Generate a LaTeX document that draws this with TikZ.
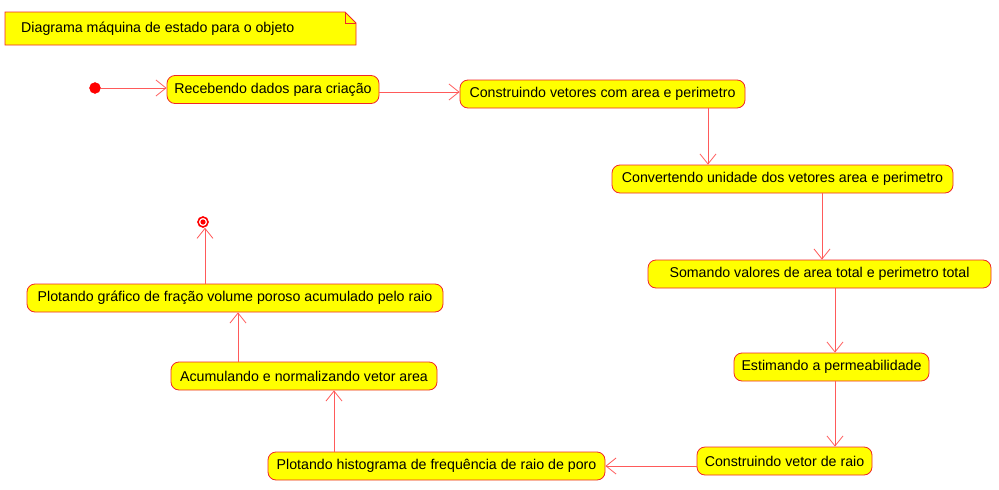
\documentclass[tikz,border=0pt]{standalone}
\usepackage{fontspec}
\setmainfont{Liberation Sans}
\usetikzlibrary{arrows.meta,calc}
\definecolor{boxred}{RGB}{240,40,40}
\definecolor{linered}{RGB}{255,90,90}
\definecolor{boxyellow}{RGB}{255,255,0}
\tikzset{
  state/.style={draw=boxred, fill=boxyellow, rounded corners=8pt, line width=0.8pt,
    minimum height=28pt, inner xsep=0pt, font=\fontsize{14.2}{16}\selectfont, text=black},
  conn/.style={draw=linered, line width=0.8pt, -{Straight Barb[length=10pt,width=16pt,line width=0.8pt]}},
}
\begin{document}
\begin{tikzpicture}[x=1pt,y=-1pt]
\useasboundingbox (0,0) rectangle (999,490);
% note
\draw[boxred, fill=boxyellow, line width=0.8pt] (5,12) -- (345,12) -- (356,23) -- (356,45) -- (5,45) -- cycle;
\draw[boxred, line width=0.8pt] (345,12) -- (345,23) -- (356,23);
\node[anchor=west, inner sep=0pt, font=\fontsize{14.2}{16}\selectfont] (note) at (21,28.5) {Diagrama máquina de estado para o objeto};
% initial / final
\node[circle, fill=red, draw=red, minimum size=11pt, inner sep=0pt] (init) at (95,88) {};
\node[circle, draw=red, fill=white, line width=1.6pt, minimum size=10pt, inner sep=0pt] (final) at (203,222) {};
\fill[red] (final.center) circle (2.6pt);
% states
\node[state, minimum width=212pt] (s1) at (273,89.5) {Recebendo dados para criação};
\node[state, minimum width=285pt] (s2) at (602.5,94) {Construindo vetores com area e perimetro};
\node[state, minimum width=341pt] (s3) at (782.5,179) {Convertendo unidade dos vetores area e perimetro};
\node[state, minimum width=343pt] (s4) at (819.5,274) {Somando valores de area total e perimetro total};
\node[state, minimum width=195pt] (s5) at (831.5,367) {Estimando a permeabilidade};
\node[state, minimum width=175pt] (s6) at (784.5,461) {Construindo vetor de raio};
\node[state, minimum width=337pt] (s7) at (436.5,466) {Plotando histograma de frequência de raio de poro};
\node[state, minimum width=266pt] (s8) at (304,376) {Acumulando e normalizando vetor area};
\node[state, minimum width=416pt] (s9) at (235,298) {Plotando gráfico de fração volume poroso acumulado pelo raio};
% guide coordinates
\coordinate (y1) at (0,92);
\coordinate (x1) at (708,0);
\coordinate (x2) at (822,0);
\coordinate (x3) at (835,0);
\coordinate (x4) at (334,0);
\coordinate (x5) at (238,0);
\coordinate (x6) at (205,0);
% connectors
\draw[conn] (init) -- (s1.west |- init);
\draw[conn] (s1.east |- y1) -- (s2.west |- y1);
\draw[conn] (s2.south -| x1) -- (s3.north -| x1);
\draw[conn] (s3.south -| x2) -- (s4.north -| x2);
\draw[conn] (s4.south -| x3) -- (s5.north -| x3);
\draw[conn] (s5.south -| x3) -- (s6.north -| x3);
\draw[conn] (s6.west |- s7) -- (s7.east);
\draw[conn] (s7.north -| x4) -- (s8.south -| x4);
\draw[conn] (s8.north -| x5) -- (s9.south -| x5);
\draw[conn] (s9.north -| x6) -- (final.south -| x6);
\end{tikzpicture}
\end{document}
